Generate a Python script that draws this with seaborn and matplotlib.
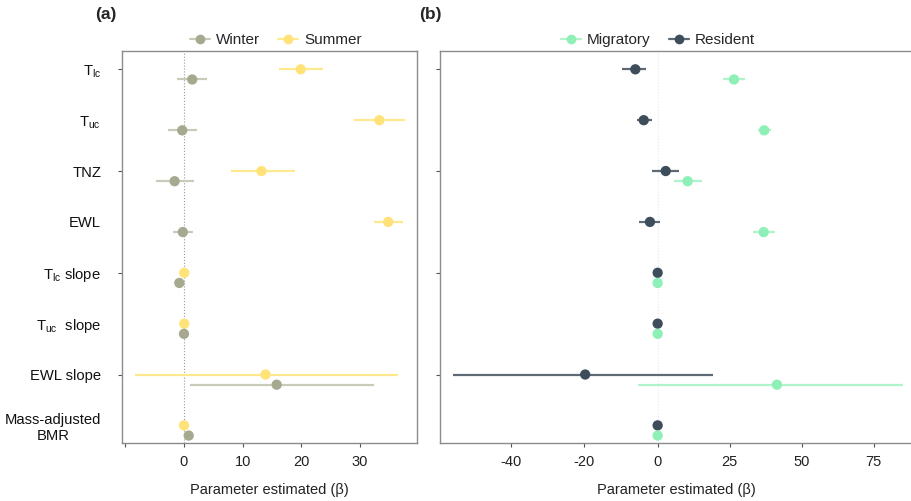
import numpy as np
import pandas as pd
import matplotlib
matplotlib.use("Agg")
import matplotlib.pyplot as plt
from matplotlib.lines import Line2D
import seaborn as sns

sns.set_theme(style="white")
plt.rcParams['font.family'] = ['Liberation Sans', 'DejaVu Sans']
plt.rcParams['mathtext.default'] = 'regular'

# data
params = [r'T$_{lc}$', r'T$_{uc}$', 'TNZ', 'EWL',
          r'T$_{lc}$ slope', r'T$_{uc}$  slope', 'EWL slope', 'Mass-adjusted\nBMR']

summer_est = [19.9, 33.3, 13.2, 34.8, 0.05, 0.05, 13.9, 0.0]
summer_lo = [16.2, 29.0, 8.0, 32.3, 0.05, 0.05, -8.3, 0.0]
summer_hi = [23.7, 37.6, 19.0, 37.3, 0.05, 0.05, 36.5, 0.0]
winter_est = [1.4, -0.3, -1.6, -0.2, -0.8, 0.0, 15.8, 0.8]
winter_lo = [-1.25, -2.8, -4.7, -1.8, -0.8, 0.0, 1.1, 0.8]
winter_hi = [4.0, 2.2, 1.7, 1.5, -0.8, 0.0, 32.4, 0.8]

resident_est = [-6.1, -3.8, 2.8, -2.1, 0.0, 0.0, -19.8, 0.0]
resident_lo = [-9.7, -5.6, -1.6, -5.0, 0.0, 0.0, -56.0, 0.0]
resident_hi = [-3.1, -1.6, 7.5, 0.8, 0.0, 0.0, 19.3, 0.0]
migratory_est = [26.5, 37.0, 10.4, 36.8, 0.0, 0.0, 41.4, 0.0]
migratory_lo = [22.6, 34.9, 5.8, 33.1, 0.0, 0.0, -5.4, 0.0]
migratory_hi = [30.4, 39.2, 15.3, 40.6, 0.0, 0.0, 85.1, 0.0]

a_ticks = [-10, 0, 10, 20, 30]
a_ticklabels = ['', '0', '10', '20', '30']
b_ticks = [-40, -20, 0, 25, 50, 75]

colors = {'Winter': '#a6a98f', 'Summer': '#ffe278',
          'Migratory': '#8ef0b6', 'Resident': '#3e4d5b'}
bar_colors = {'Winter': '#c9cbb9', 'Summer': '#ffe98f',
              'Migratory': '#b0f4cc', 'Resident': '#5d6a76'}


def build(groups):
    rows = []
    for name, (est, lo, hi, off) in groups.items():
        for i in range(len(params)):
            rows.append(dict(group=name, y=i + off, est=est[i], lo=lo[i], hi=hi[i]))
    return pd.DataFrame(rows)


df_a = build({'Summer': (summer_est, summer_lo, summer_hi, 0.0),
              'Winter': (winter_est, winter_lo, winter_hi, 0.2)})
df_b = build({'Resident': (resident_est, resident_lo, resident_hi, 0.0),
              'Migratory': (migratory_est, migratory_lo, migratory_hi, 0.2)})

fig = plt.figure(figsize=(9.11, 5.01), dpi=100)
ax1 = fig.add_axes([0.1339, 0.1164, 0.3242, 0.7818])
ax2 = fig.add_axes([0.4833, 0.1164, 0.5185, 0.7818])

# negative side of panel b is stretched in the original
k = 1.27
ax2.set_xscale('function', functions=(lambda x: np.where(x < 0, x * k, x),
                                      lambda x: np.where(x < 0, x / k, x)))


def draw(ax, df, zcol):
    ax.axvline(0, color=zcol, lw=0.8, ls=':', zorder=0)
    for g, d in df.groupby('group'):
        ax.hlines(d['y'], d['lo'], d['hi'], color=bar_colors[g], lw=1.6, zorder=1)
    sns.scatterplot(data=df, x='est', y='y', hue='group', palette=colors,
                    s=55, edgecolor='none', legend=False, ax=ax, zorder=2)
    ax.set_ylim(7.34, -0.36)
    ax.set_yticks(range(len(params)))
    ax.set_ylabel('')
    ax.set_xlabel('Parameter estimated (β)', fontsize=10.5, color='#222222', labelpad=10)
    for s in ax.spines.values():
        s.set_color('#8c8c8c')
        s.set_linewidth(1.0)
    ax.tick_params(axis='both', length=3, width=0.8, color='#555555', direction='out',
                   labelsize=10.5, labelcolor='#222222', bottom=True, left=True, pad=6)
    ax.tick_params(axis='y', pad=12)
    for i, t in enumerate(ax.yaxis.get_major_ticks()):
        if i % 2 == 1:
            t.tick1line.set_visible(False)


draw(ax1, df_a, '#9a9a9a')
ax1.set_xlim(-10.57, 39.77)
ax1.set_xticks(a_ticks)
ax1.set_xticklabels(a_ticklabels)
ax1.set_yticklabels(params, fontsize=10.6, color='#111111', multialignment='center')

draw(ax2, df_b, '#e8e8e8')
ax2.set_xlim(-59.4, 88.5)
ax2.set_xticks(b_ticks)
ax2.set_xticklabels([str(t) for t in b_ticks])
ax2.set_yticklabels([])

# legends
def handles(names):
    return [Line2D([0], [0], color=bar_colors[n], lw=1.6, marker='o', markersize=7,
                   markerfacecolor=colors[n], markeredgecolor='none') for n in names]

fig.legend(handles(['Winter', 'Summer']), ['Winter', 'Summer'], loc='center',
           bbox_to_anchor=(0.303, 0.920), ncol=2, frameon=False, fontsize=11,
           handlelength=1.3, columnspacing=1.2, handletextpad=0.4)
fig.legend(handles(['Migratory', 'Resident']), ['Migratory', 'Resident'], loc='center',
           bbox_to_anchor=(0.722, 0.920), ncol=2, frameon=False, fontsize=11,
           handlelength=1.3, columnspacing=1.2, handletextpad=0.4)

fig.text(106 / 911, 1 - 15 / 501, '(a)', fontsize=12.5, fontweight='bold', ha='center', va='center')
fig.text(430 / 911, 1 - 15 / 501, '(b)', fontsize=12.5, fontweight='bold', ha='center', va='center')

fig.savefig('out.png', dpi=100)
